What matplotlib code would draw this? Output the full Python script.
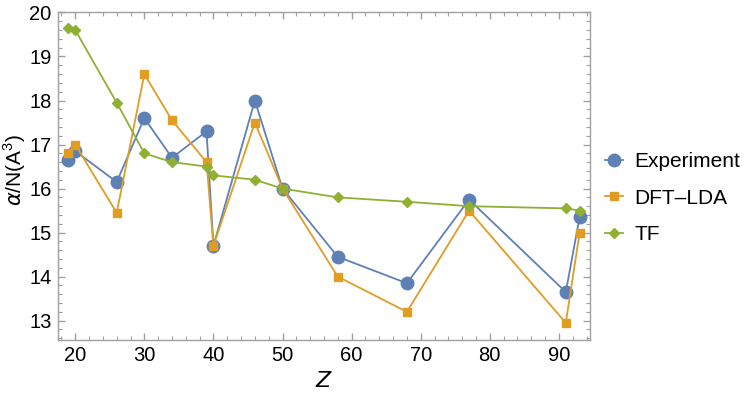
import matplotlib.pyplot as plt
from matplotlib.ticker import MultipleLocator

plt.rcParams['font.family'] = ['Liberation Sans', 'DejaVu Sans']

Z = [19, 20, 26, 30, 34, 39, 40, 46, 50, 58, 68, 77, 91, 93]
experiment = [16.65, 16.85, 16.15, 17.6, 16.7, 17.3, 14.7, 18.0, 16.0, 14.45, 13.85, 15.75, 13.65, 15.35]
dft_lda = [16.8, 17.0, 15.45, 18.6, 17.55, 16.6, 14.7, 17.5, 16.0, 14.0, 13.2, 15.5, 12.95, 15.0]
tf = [19.65, 19.6, 17.95, 16.8, 16.6, 16.5, 16.3, 16.2, 16.0, 15.8, 15.7, 15.6, 15.55, 15.5]

blue = '#5E81B5'
orange = '#E19C24'
green = '#8FB032'

fig = plt.figure(figsize=(7.47, 4.01), dpi=100)
ax = fig.add_axes([0.0776, 0.152, 0.7122, 0.817])

ax.plot(Z, experiment, '-o', color=blue, lw=1.3, ms=9, label='Experiment')
ax.plot(Z, dft_lda, '-s', color=orange, lw=1.3, ms=6, label='DFT\u2013LDA')
ax.plot(Z, tf, '-D', color=green, lw=1.3, ms=5.5, label='TF')

ax.set_xlim(17.5, 94.5)
ax.set_ylim(12.56, 20)
ax.xaxis.set_major_locator(MultipleLocator(10))
ax.xaxis.set_minor_locator(MultipleLocator(2))
ax.yaxis.set_major_locator(MultipleLocator(1))
ax.yaxis.set_minor_locator(MultipleLocator(0.2))

for s in ax.spines.values():
    s.set_color('#a0a0a0')
    s.set_linewidth(1.0)
ax.tick_params(which='both', direction='in', color='#a0a0a0', top=True, right=True,
               labelsize=14.5, labelcolor='black')
ax.tick_params(which='major', length=5, width=1.0, pad=4.5)
ax.tick_params(which='minor', length=3, width=0.8)

ax.set_xlabel('$Z$', fontsize=16, labelpad=4)
ax.set_ylabel(r'$\alpha$/N(A$^{\mathregular{3}}$)', fontsize=15)
ax.yaxis.set_label_coords(-0.057, 0.52)

fig.legend(loc='center left', bbox_to_anchor=(605 / 747, 0.506), bbox_transform=fig.transFigure,
           frameon=False, fontsize=15, borderpad=0, borderaxespad=0,
           handlelength=0.85, handletextpad=0.55, labelspacing=0.85)

fig.savefig('out.png', dpi=100)
